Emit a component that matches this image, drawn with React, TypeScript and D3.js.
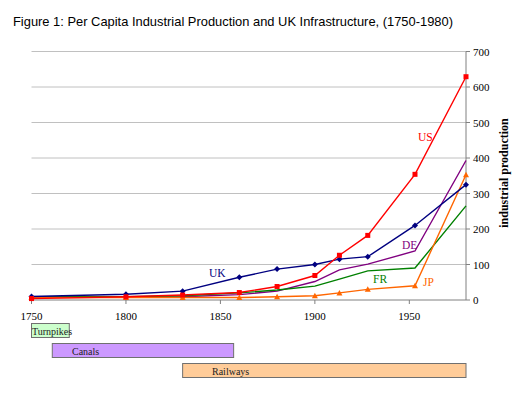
import React from "react";
import * as d3 from "d3";

const years = [1750, 1800, 1830, 1860, 1880, 1900, 1913, 1928, 1953, 1980];
const ukValues = [10, 16, 25, 64, 87, 100, 115, 122, 210, 325];
const usValues = [4, 9, 14, 21, 38, 69, 126, 182, 354, 629];
const deValues = [8, 8, 9, 15, 25, 52, 85, 101, 138, 393];
const frValues = [9, 9, 12, 20, 28, 39, 59, 82, 90, 265];
const jpValues = [7, 7, 7, 7, 9, 12, 20, 30, 40, 353];

const seriesNames = ["DE", "FR", "JP", "UK", "US"];
const xTicks = [1750, 1800, 1850, 1900, 1950];
const yTicks = [0, 100, 200, 300, 400, 500, 600, 700];

const infraNames = ["Turnpikes", "Canals", "Railways"];
const infraStart = [1750, 1761, 1830];
const infraEnd = [1770, 1857, 1980];

const W = 516;
const H = 395;

export default function App() {
  const x = d3.scaleLinear().domain([1750, 1980]).range([31.5, 466]);
  const y = d3.scaleLinear().domain([0, 700]).range([300, 51.5]);
  const line = d3
    .line<[number, number]>()
    .x((d) => x(d[0]))
    .y((d) => y(d[1]));

  const valuesMap: Record<string, number[]> = {
    UK: ukValues,
    US: usValues,
    DE: deValues,
    FR: frValues,
    JP: jpValues,
  };
  const colors: Record<string, string> = {
    UK: "#000080",
    US: "#ff0000",
    DE: "#800080",
    FR: "#008000",
    JP: "#ff6600",
  };
  const marker: Record<string, string> = {
    UK: "diamond",
    US: "square",
    DE: "none",
    FR: "none",
    JP: "triangle",
  };
  const labelPos: Record<string, [number, number]> = {
    UK: [209, 277],
    US: [418, 141],
    DE: [402, 249],
    FR: [373, 283],
    JP: [423, 286],
  };

  const serif = "'Liberation Serif', 'Times New Roman', serif";
  const bandY = [323.5, 343.5, 363.5];
  const bandH = 14;
  const bandFill = ["#ccffcc", "#cc99ff", "#ffcc99"];
  const bandTextX = [32, 72, 212];

  const drawMarker = (kind: string, cx: number, cy: number, c: string, k: string) => {
    if (kind === "square")
      return <rect key={k} x={cx - 2.5} y={cy - 2.5} width={5} height={5} fill={c} />;
    if (kind === "diamond")
      return (
        <path key={k} d={`M${cx},${cy - 3}L${cx + 3},${cy}L${cx},${cy + 3}L${cx - 3},${cy}Z`} fill={c} />
      );
    if (kind === "triangle")
      return (
        <path key={k} d={`M${cx},${cy - 3}L${cx + 3},${cy + 2.5}L${cx - 3},${cy + 2.5}Z`} fill={c} />
      );
    return null;
  };

  return (
    <svg width={W} height={H} style={{ position: "absolute", left: 0, top: 0, background: "#fff" }}>
      <text x={13} y={26} fontFamily="'Liberation Sans', Arial, sans-serif" fontSize={12.9} fill="#000">
        Figure 1: Per Capita Industrial Production and UK Infrastructure, (1750-1980)
      </text>
      {/* gridlines */}
      {yTicks.slice(1).map((t) => (
        <line key={t} x1={x(1750)} x2={x(1980)} y1={y(t)} y2={y(t)} stroke="#c0c0c0" strokeWidth={1} />
      ))}
      {/* x axis */}
      <line x1={x(1750)} x2={x(1980)} y1={y(0)} y2={y(0)} stroke="#808080" strokeWidth={1} />
      {xTicks.map((t) => (
        <g key={t}>
          <line x1={x(t)} x2={x(t)} y1={y(0)} y2={y(0) + 4} stroke="#808080" />
          <text x={x(t)} y={320} textAnchor="middle" fontFamily={serif} fontSize={11} fill="#000">
            {t}
          </text>
        </g>
      ))}
      {/* right axis */}
      <line x1={x(1980)} x2={x(1980)} y1={y(0)} y2={y(700)} stroke="#808080" strokeWidth={1} />
      {yTicks.map((t) => (
        <g key={t}>
          <line x1={x(1980)} x2={x(1980) + 4} y1={y(t)} y2={y(t)} stroke="#808080" />
          <text x={473} y={y(t) + 4} fontFamily={serif} fontSize={11} fill="#000">
            {t}
          </text>
        </g>
      ))}
      <text
        transform={`translate(508,173) rotate(-90)`}
        textAnchor="middle"
        fontFamily={serif}
        fontWeight="bold"
        fontSize={12}
        fill="#000"
      >
        industrial production
      </text>
      {/* series */}
      {seriesNames.map((name) => {
        const pts: [number, number][] = years.map((yr, i) => [yr, valuesMap[name][i]]);
        return (
          <g key={name}>
            <path d={line(pts) || ""} fill="none" stroke={colors[name]} strokeWidth={1.4} />
            {pts.map((p, i) => drawMarker(marker[name], x(p[0]), y(p[1]), colors[name], name + i))}
            <text x={labelPos[name][0]} y={labelPos[name][1]} fontFamily={serif} fontSize={11.5} fill={colors[name]}>
              {name}
            </text>
          </g>
        );
      })}
      {/* infrastructure bars */}
      {infraNames.map((n, i) => (
        <g key={n}>
          <rect
            x={x(infraStart[i])}
            y={bandY[i]}
            width={x(infraEnd[i]) - x(infraStart[i])}
            height={bandH}
            fill={bandFill[i]}
            stroke="#707070"
            strokeWidth={1}
          />
          <text x={bandTextX[i]} y={bandY[i] + 11} fontFamily={serif} fontSize={10} fill="#222">
            {n}
          </text>
        </g>
      ))}
    </svg>
  );
}
